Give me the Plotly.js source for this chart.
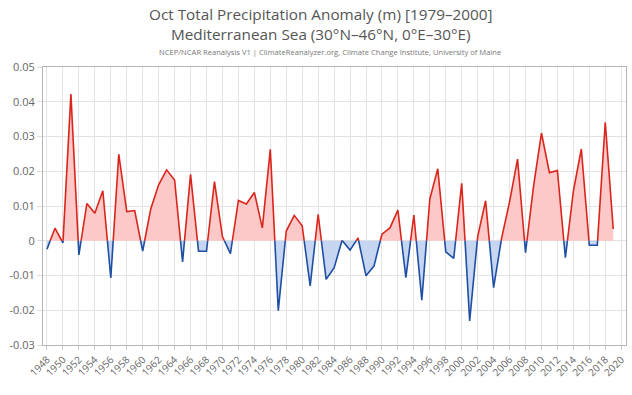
<!DOCTYPE html>
<html>
<head>
<meta charset="utf-8">
<script src="https://cdn.plot.ly/plotly-3.0.1.min.js"></script>
<style>html,body{margin:0;padding:0;background:#fff;}#chart{width:632px;height:395px;}</style>
</head>
<body>
<div id="chart"></div>
<script>
const years = [1948,1949,1950,1951,1952,1953,1954,1955,1956,1957,1958,1959,1960,1961,1962,1963,1964,1965,1966,1967,1968,1969,1970,1971,1972,1973,1974,1975,1976,1977,1978,1979,1980,1981,1982,1983,1984,1985,1986,1987,1988,1989,1990,1991,1992,1993,1994,1995,1996,1997,1998,1999,2000,2001,2002,2003,2004,2005,2006,2007,2008,2009,2010,2011,2012,2013,2014,2015,2016,2017,2018,2019];
const anomaly = [-0.0024,0.0036,-0.0006,0.0422,-0.0041,0.0107,0.0079,0.0144,-0.0107,0.0249,0.0084,0.0087,-0.0030,0.0091,0.0161,0.0204,0.0175,-0.0061,0.0191,-0.0030,-0.0030,0.0170,0.0012,-0.0037,0.0116,0.0106,0.0139,0.0037,0.0263,-0.0201,0.0028,0.0073,0.0043,-0.0130,0.0076,-0.0111,-0.0078,0.0001,-0.0027,0.0008,-0.0101,-0.0073,0.0019,0.0037,0.0088,-0.0106,0.0074,-0.0171,0.0120,0.0207,-0.0032,-0.0051,0.0165,-0.0231,0.0012,0.0115,-0.0135,0.0007,0.0112,0.0235,-0.0034,0.0156,0.0310,0.0196,0.0202,-0.0049,0.0143,0.0264,-0.0013,-0.0013,0.0341,0.0034];
const xTicks = [];
for (let y = 1948; y <= 2020; y += 2) xTicks.push(y);
const yTickVals = [-0.03,-0.02,-0.01,0,0.01,0.02,0.03,0.04,0.05];
const yTickText = ["-0.03","-0.02","-0.01","0","0.01","0.02","0.03","0.04","0.05"];
const titleText = 'Oct Total Precipitation Anomaly (m) [1979–2000]<br>Mediterranean Sea (30°N–46°N, 0°E–30°E)';
const subtitle = 'NCEP/NCAR Reanalysis V1 | ClimateReanalyzer.org, Climate Change Institute, University of Maine';

// split into positive / negative parts at zero crossings
const posLX=[],posLY=[],negLX=[],negLY=[];
const fillX=[],posFY=[],negFY=[];
for (let i=0;i<years.length;i++){
  const x=years[i], v=anomaly[i];
  if (v>=0){posLX.push(x);posLY.push(v);} else {negLX.push(x);negLY.push(v);}
  fillX.push(x); posFY.push(Math.max(v,0)); negFY.push(Math.min(v,0));
  if (i<years.length-1){
    const w=anomaly[i+1];
    if ((v>=0)!==(w>=0)){
      const xc = x + (0-v)/(w-v)*(years[i+1]-x);
      posLX.push(xc);posLY.push(0);negLX.push(xc);negLY.push(0);
      fillX.push(xc);posFY.push(0);negFY.push(0);
      if (v>=0){posLX.push(xc);posLY.push(null);} else {negLX.push(xc);negLY.push(null);}
    }
  }
}

const traces = [
  {x:fillX,y:posFY,type:'scatter',mode:'lines',fill:'tozeroy',fillcolor:'rgba(252,200,200,1)',line:{width:0},hoverinfo:'skip',showlegend:false},
  {x:fillX,y:negFY,type:'scatter',mode:'lines',fill:'tozeroy',fillcolor:'rgba(198,213,240,1)',line:{width:0},hoverinfo:'skip',showlegend:false},
  {x:posLX,y:posLY,type:'scatter',mode:'lines',line:{color:'#d9261c',width:1.6},connectgaps:false,showlegend:false},
  {x:negLX,y:negLY,type:'scatter',mode:'lines',line:{color:'#1f4fa3',width:1.6},connectgaps:false,showlegend:false}
];

const fam = '"Open Sans", "DejaVu Sans", sans-serif';
const layout = {
  width:632,height:395,
  paper_bgcolor:'#fff',plot_bgcolor:'#fff',
  margin:{l:43,r:6,t:67,b:50},
  font:{family:fam,color:'#666'},
  annotations:[
    {text:titleText,xref:'paper',yref:'paper',x:0.4777,y:1,yshift:43,xanchor:'center',yanchor:'middle',showarrow:false,font:{size:15.3,color:'#555'}},
    {text:subtitle,xref:'paper',yref:'paper',x:0.493,y:1,yshift:15,xanchor:'center',yanchor:'middle',showarrow:false,font:{size:7.6,color:'#777'}}
  ],
  xaxis:{range:[1947.5,2020.6],tickvals:xTicks,ticktext:xTicks.map(String),tickangle:-45,
    tickfont:{size:10,color:'#666'},showgrid:true,gridcolor:'#e3e3e3',gridwidth:1,
    showline:true,linecolor:'#b5b5b5',linewidth:1,mirror:true,zeroline:false,
    ticks:'outside',ticklen:4,tickcolor:'#ccc'},
  yaxis:{range:[-0.03,0.05],tickvals:yTickVals,ticktext:yTickText,
    tickfont:{size:11,color:'#666'},showgrid:true,gridcolor:'#e3e3e3',gridwidth:1,
    showline:true,linecolor:'#b5b5b5',linewidth:1,mirror:true,zeroline:false,
    ticks:'outside',ticklen:5,tickcolor:'#ddd'}
};
Plotly.newPlot('chart',traces,layout,{staticPlot:true,displayModeBar:false});
</script>
</body>
</html>
